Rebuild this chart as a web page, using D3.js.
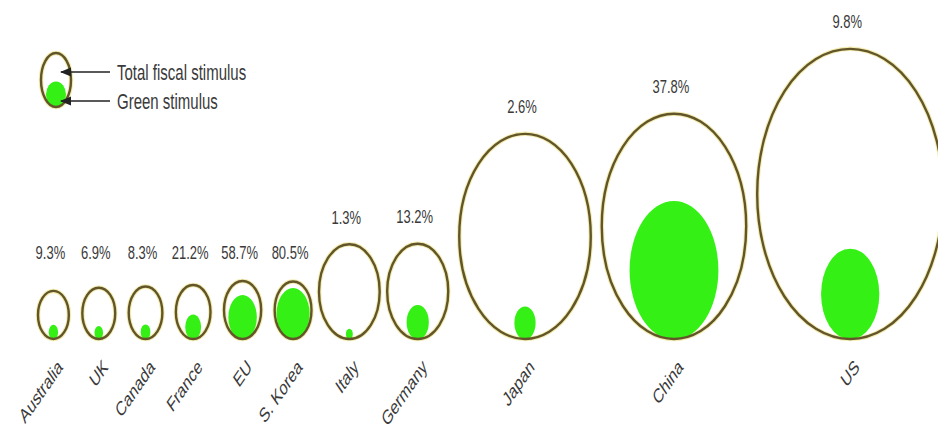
<!DOCTYPE html>
<html>
<head>
<meta charset="utf-8">
<script src="https://cdn.jsdelivr.net/npm/d3@7"></script>
<style>
  html, body { margin: 0; padding: 0; background: #fff; }
  svg { display: block; }
  text { font-family: "Liberation Sans", Arial, sans-serif; fill: #3a3a3a; }
</style>
</head>
<body>
<svg id="chart" width="938" height="436"></svg>
<script>
// Fiscal stimulus packages (US$ bn) and the share earmarked as green stimulus
const countries = ["Australia", "UK", "Canada", "France", "EU", "S. Korea", "Italy", "Germany", "Japan", "China", "US"];
const totalStimulus = [26.7, 30.4, 31.8, 33.7, 38.8, 38.1, 103.5, 104.8, 485.9, 586.1, 972.0];
const greenShare = [9.3, 6.9, 8.3, 21.2, 58.7, 80.5, 1.3, 13.2, 2.6, 37.8, 9.8];

const W = 938, H = 436;
const stretch = 1.56;      // vertical elongation of the bubbles
const textStretch = 1.45;  // matching elongation of the lettering
const baseline = 339;      // common bottom of all bubbles
const leftEdge = 38;

const svg = d3.select("#chart");

// bubble area proportional to stimulus
const r = d3.scaleSqrt()
  .domain([0, d3.max(totalStimulus)])
  .range([0, 93]);

const data = countries.map((c, i) => {
  const total = totalStimulus[i];
  const green = total * greenShare[i] / 100;
  return { country: c, total, share: greenShare[i], green, rx: r(total), grx: r(green) };
});

// pack bubbles left to right; spacing depends on the neighbours' sizes
function gapBetween(a, b) {
  if (a.rx < 25 && b.rx < 25) return 13.5;
  if (a.rx > 60 || b.rx > 60) return 11;
  return 7.5;
}
data.forEach((d, i) => {
  if (i > 0) {
    const prev = data[i - 1];
    d.cx = prev.cx + prev.rx + gapBetween(prev, d) + d.rx;
  } else {
    d.cx = leftEdge + d.rx;
  }
  d.ry = d.rx * stretch;
  d.gry = d.grx * stretch;
  d.cy = baseline - d.ry;
  d.gcy = baseline + 0.5 - d.gry;
});

const outerStroke = "#62552a";
const halo = "#ece48f";
const greenFill = "#35f015";

const g = svg.append("g");

// soft halo under the outlines
g.selectAll("ellipse.halo")
  .data(data)
  .join("ellipse")
  .attr("class", "halo")
  .attr("cx", d => d.cx)
  .attr("cy", d => d.cy)
  .attr("rx", d => d.rx)
  .attr("ry", d => d.ry)
  .attr("fill", "#fff")
  .attr("stroke", halo)
  .attr("stroke-opacity", 0.7)
  .attr("stroke-width", 4.5);

// green stimulus
g.selectAll("ellipse.green")
  .data(data)
  .join("ellipse")
  .attr("class", "green")
  .attr("cx", d => d.cx)
  .attr("cy", d => d.gcy)
  .attr("rx", d => d.grx)
  .attr("ry", d => d.gry)
  .attr("fill", greenFill);

// total fiscal stimulus outline
g.selectAll("ellipse.total")
  .data(data)
  .join("ellipse")
  .attr("class", "total")
  .attr("cx", d => d.cx)
  .attr("cy", d => d.cy)
  .attr("rx", d => d.rx)
  .attr("ry", d => d.ry)
  .attr("fill", "none")
  .attr("stroke", outerStroke)
  .attr("stroke-width", 2.4);

// green share labels
const fmt = d3.format(".1f");
const labelRow = baseline - 60;
g.selectAll("text.share")
  .data(data)
  .join("text")
  .attr("class", "share")
  .attr("transform", d => {
    const top = Math.min(d.cy - d.ry, labelRow);
    return `translate(${d.cx - 3},${top - 27}) scale(1,${textStretch})`;
  })
  .attr("text-anchor", "middle")
  .attr("dy", "0.35em")
  .style("font-size", "13px")
  .text(d => fmt(d.share) + "%");

// country names, slanted
g.selectAll("text.country")
  .data(data)
  .join("text")
  .attr("class", "country")
  .attr("transform", d => `translate(${d.cx + 3},${baseline + 19}) scale(1,${textStretch}) rotate(-45)`)
  .attr("text-anchor", "end")
  .attr("dy", "0.72em")
  .style("font-size", "14px")
  .text(d => d.country);

// legend
const lg = svg.append("g");
const lcx = 56, lcy = 80, lrx = 15, lry = 27;
lg.append("ellipse")
  .attr("cx", lcx).attr("cy", lcy).attr("rx", lrx).attr("ry", lry)
  .attr("fill", "#fff").attr("stroke", halo).attr("stroke-opacity", 0.7).attr("stroke-width", 4.5);
lg.append("ellipse")
  .attr("cx", lcx).attr("cy", lcy + lry - 12.5).attr("rx", 10).attr("ry", 13)
  .attr("fill", greenFill);
lg.append("ellipse")
  .attr("cx", lcx).attr("cy", lcy).attr("rx", lrx).attr("ry", lry)
  .attr("fill", "none").attr("stroke", outerStroke).attr("stroke-width", 2.4);

svg.append("defs").append("marker")
  .attr("id", "arrow")
  .attr("viewBox", "0 0 10 10")
  .attr("refX", 9).attr("refY", 5)
  .attr("markerWidth", 7).attr("markerHeight", 7)
  .attr("orient", "auto")
  .append("path")
  .attr("d", "M0,1 L10,5 L0,9 Z")
  .attr("fill", "#222");

const legendItems = [
  { label: "Total fiscal stimulus", y: 72 },
  { label: "Green stimulus", y: 101 }
];
lg.selectAll("line.pointer")
  .data(legendItems)
  .join("line")
  .attr("class", "pointer")
  .attr("x1", 110).attr("x2", 61)
  .attr("y1", d => d.y).attr("y2", d => d.y)
  .attr("stroke", "#222").attr("stroke-width", 1.6)
  .attr("marker-end", "url(#arrow)");
lg.selectAll("text.legend")
  .data(legendItems)
  .join("text")
  .attr("class", "legend")
  .attr("transform", d => `translate(117,${d.y}) scale(1,${textStretch})`)
  .attr("dy", "0.35em")
  .style("font-size", "15px")
  .text(d => d.label);
</script>
</body>
</html>
